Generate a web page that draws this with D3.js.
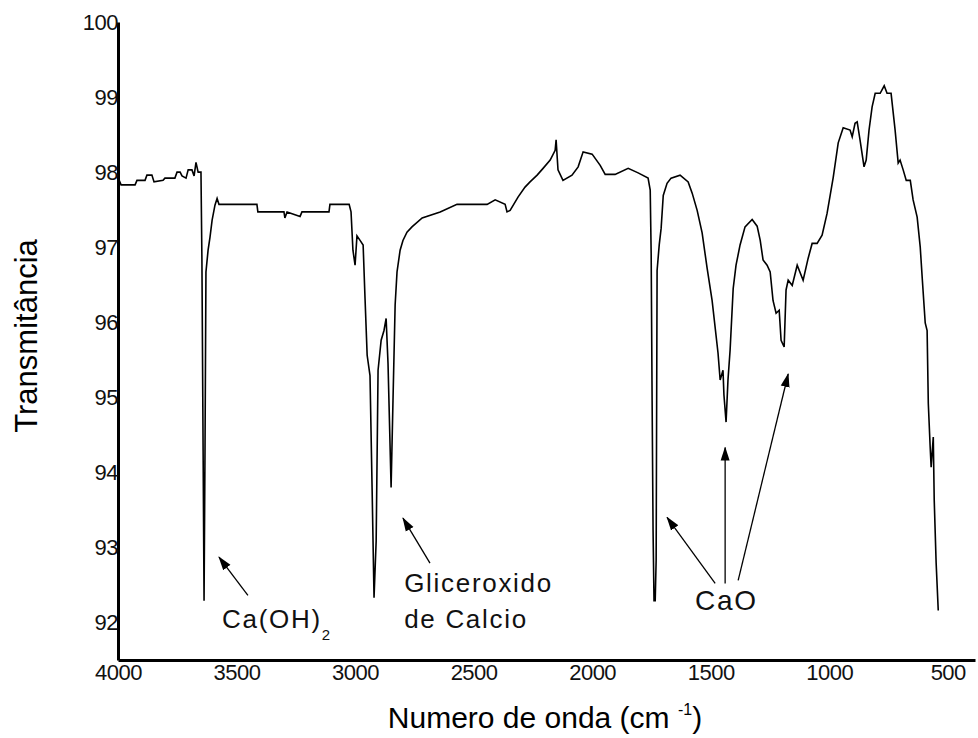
<!DOCTYPE html>
<html>
<head>
<meta charset="utf-8">
<script src="https://cdn.jsdelivr.net/npm/d3@7"></script>
<style>
  body { margin: 0; background: #fff; }
  svg { display: block; font-family: Arial, "Liberation Sans", sans-serif; }
</style>
</head>
<body>
<script>
// spectrum: wavenumber (cm-1) and transmittance (%)
const wavenumber = [
  3995, 3987, 3928, 3920, 3886, 3878, 3857, 3848, 3810, 3802, 3760, 3751, 3738, 3730, 3713, 3704,
  3688, 3679, 3671, 3662, 3650, 3646, 3641, 3637, 3633, 3629,
  3620, 3612, 3603, 3591, 3582, 3574, 3414, 3410, 3300, 3296, 3287, 3232, 3224, 3110, 3106, 3025,
  3017, 3009, 3000, 2992, 2979, 2966, 2958, 2949, 2937, 2928, 2920, 2911, 2903, 2890, 2878, 2869,
  2861, 2848, 2840, 2831, 2823, 2810, 2798, 2781, 2760, 2717, 2641, 2570, 2443, 2409, 2367, 2359,
  2346, 2312, 2283, 2262, 2232, 2207, 2177, 2156, 2152, 2144, 2123, 2085, 2059, 2038, 2000, 1966,
  1945, 1903, 1848, 1806, 1764, 1755, 1751, 1747, 1743, 1739, 1734, 1730, 1726, 1717, 1709, 1700,
  1684, 1667, 1629, 1595, 1578, 1557, 1536, 1515, 1494, 1469, 1460, 1448, 1444, 1435, 1427, 1418,
  1405, 1393, 1376, 1355, 1325, 1304, 1291, 1279, 1262, 1249, 1237, 1224, 1211, 1203, 1190, 1182,
  1173, 1156, 1135, 1110, 1089, 1072, 1051, 1030, 1009, 996, 983, 962, 941, 912, 903, 891,
  882, 870, 853, 844, 832, 819, 806, 785, 768, 756, 739, 722, 709, 701, 688, 675,
  658, 646, 629, 616, 607, 595, 587, 582, 574, 570, 561, 557, 549, 540
];
const transmittance = [
  97.89, 97.83, 97.83, 97.89, 97.89, 97.96, 97.96, 97.87, 97.89, 97.92, 97.92, 98.0, 98.0, 97.95, 97.92, 98.03,
  98.03, 97.95, 98.13, 98.0, 98.0, 96.83, 94.29, 92.29, 94.29, 96.67,
  96.96, 97.13, 97.36, 97.56, 97.65, 97.57, 97.57, 97.47, 97.47, 97.39, 97.47, 97.41, 97.47, 97.47, 97.57, 97.57,
  97.47, 96.96, 96.76, 97.15, 97.09, 97.03, 96.32, 95.56, 95.29, 93.76, 92.33, 93.09, 95.36, 95.76, 95.89, 96.05,
  95.45, 93.8, 94.96, 96.23, 96.67, 96.96, 97.09, 97.2, 97.27, 97.39, 97.47, 97.57, 97.57, 97.63, 97.57, 97.47,
  97.49, 97.67, 97.8, 97.87, 97.96, 98.05, 98.16, 98.29, 98.43, 98.03, 97.89, 97.96, 98.07, 98.27, 98.24, 98.09,
  97.97, 97.97, 98.05, 97.99, 97.92, 97.76, 96.92, 94.96, 93.23, 92.29, 92.29, 92.83, 96.69, 97.03, 97.25, 97.69,
  97.85, 97.92, 97.96, 97.87, 97.72, 97.49, 97.19, 96.72, 96.29, 95.59, 95.23, 95.36, 95.03, 94.67, 95.23, 95.63,
  96.45, 96.76, 97.03, 97.27, 97.37, 97.28, 97.09, 96.83, 96.76, 96.67, 96.29, 96.12, 96.16, 95.76, 95.67, 96.43,
  96.56, 96.49, 96.76, 96.56, 96.85, 97.05, 97.05, 97.16, 97.45, 97.69, 97.93, 98.39, 98.59, 98.56, 98.47, 98.65,
  98.67, 98.43, 98.07, 98.16, 98.56, 98.87, 99.05, 99.05, 99.15, 99.05, 99.05, 98.56, 98.12, 98.16, 98.03, 97.89,
  97.89, 97.63, 97.4, 97.0, 96.56, 95.99, 95.89, 94.92, 94.33, 94.07, 94.47, 93.63, 92.8, 92.16
];

const xTicks = [4000, 3500, 3000, 2500, 2000, 1500, 1000, 500];
const yTicks = [92, 93, 94, 95, 96, 97, 98, 99, 100];

// annotation arrows: tail and tip in data units [wavenumber, transmittance]
const arrowTail = [[3452, 92.36], [2684, 92.79], [1481, 92.52], [1439, 92.52], [1384, 92.56]];
const arrowTip = [[3574, 92.87], [2798, 93.39], [1684, 93.40], [1439, 94.33], [1173, 95.31]];

const width = 978, height = 738;

const x = d3.scaleLinear().domain([4000, 385]).range([118, 975]);
const y = d3.scaleLinear().domain([91.5, 100]).range([660, 22]);

const svg = d3.select("body").append("svg")
    .attr("width", width)
    .attr("height", height);

svg.append("defs").append("marker")
    .attr("id", "head")
    .attr("markerUnits", "userSpaceOnUse")
    .attr("markerWidth", 14)
    .attr("markerHeight", 10)
    .attr("viewBox", "0 0 14 10")
    .attr("refX", 13)
    .attr("refY", 5)
    .attr("orient", "auto")
    .append("path")
    .attr("d", "M0,0.5 L14,5 L0,9.5 Z")
    .attr("fill", "#000");

// spectrum
const line = d3.line()
    .x((d, i) => x(wavenumber[i]))
    .y(d => y(d));

svg.append("path")
    .datum(transmittance)
    .attr("d", line)
    .attr("fill", "none")
    .attr("stroke", "#000")
    .attr("stroke-width", 1.6)
    .attr("stroke-linejoin", "miter");

// axes (no tick marks, labels sit against the lines)
const yAxis = svg.append("g")
    .attr("transform", `translate(${x.range()[0]},0)`)
    .call(d3.axisLeft(y).tickValues(yTicks).tickSize(0).tickPadding(0).tickFormat(d3.format("d")));
const xAxis = svg.append("g")
    .attr("transform", `translate(0,${y.range()[0]})`)
    .call(d3.axisBottom(x).tickValues(xTicks).tickSize(0).tickPadding(4).tickFormat(d3.format("d")));

[xAxis, yAxis].forEach(g => {
    g.select(".domain").attr("stroke", "#000").attr("stroke-width", 3);
    g.selectAll("text")
        .style("font-size", "22px")
        .style("letter-spacing", "-0.5px")
        .attr("fill", "#111");
});

// axis titles
svg.append("text")
    .attr("transform", "translate(37,336) rotate(-90)")
    .attr("text-anchor", "middle")
    .style("font-size", "31px")
    .text("Transmitância");

const xt = svg.append("text")
    .attr("x", 545)
    .attr("y", 728)
    .attr("text-anchor", "middle")
    .style("font-size", "30px")
    .text("Numero de onda (cm ");
xt.append("tspan").attr("dy", -13).style("font-size", "16px").text("-1");
xt.append("tspan").attr("dy", 13).text(")");

// arrows
svg.selectAll(".arrow")
    .data(arrowTail)
    .enter()
    .append("line")
    .attr("class", "arrow")
    .attr("x1", d => x(d[0]))
    .attr("y1", d => y(d[1]))
    .attr("x2", (d, i) => x(arrowTip[i][0]))
    .attr("y2", (d, i) => y(arrowTip[i][1]))
    .attr("stroke", "#000")
    .attr("stroke-width", 1.3)
    .attr("marker-end", "url(#head)");

// labels
const labelStyle = sel => sel
    .style("font-size", "26px")
    .style("letter-spacing", "1.7px")
    .attr("fill", "#111");

const ca = svg.append("text")
    .attr("x", x(3561))
    .attr("y", y(91.93))
    .call(labelStyle)
    .text("Ca(OH)");
ca.append("tspan").attr("dy", 12).style("font-size", "15px").style("letter-spacing", "0px").text("2");

svg.append("text")
    .attr("x", x(2793))
    .attr("y", y(92.4))
    .call(labelStyle)
    .text("Gliceroxido");
svg.append("text")
    .attr("x", x(2793))
    .attr("y", y(91.93))
    .call(labelStyle)
    .text("de Calcio");

svg.append("text")
    .attr("x", x(1566))
    .attr("y", y(92.17))
    .call(labelStyle)
    .style("font-size", "28px")
    .text("CaO");
</script>
</body>
</html>
